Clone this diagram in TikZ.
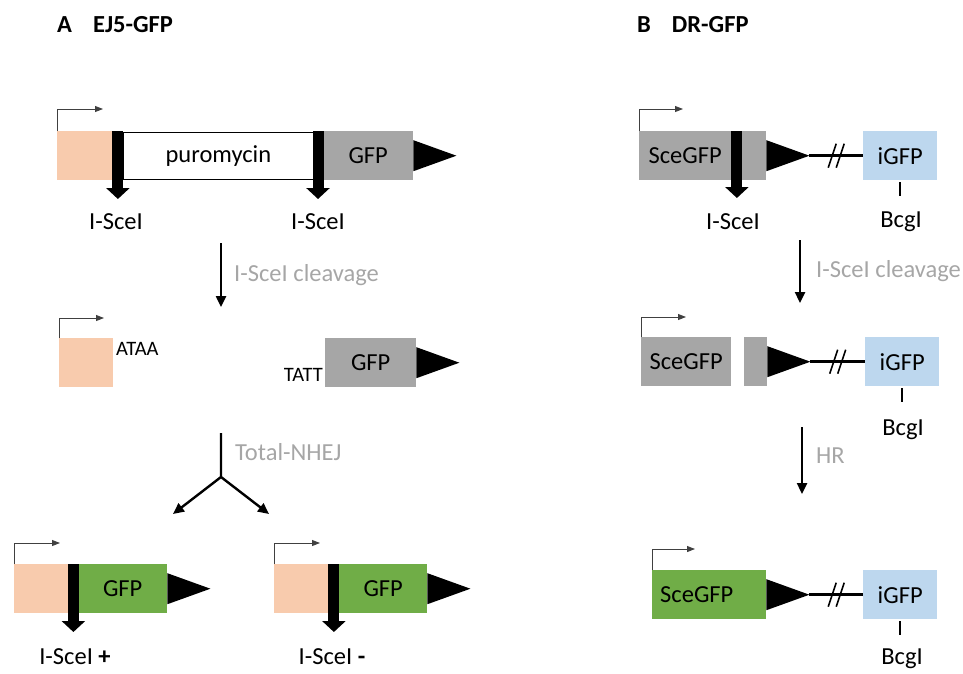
\documentclass[tikz,border=0pt]{standalone}
\usepackage{fontspec}
\setmainfont{Carlito}
\definecolor{peach}{HTML}{F8CBAD}
\definecolor{gfpgrey}{HTML}{A6A6A6}
\definecolor{gfpgreen}{HTML}{70AD47}
\definecolor{iblue}{HTML}{BDD7EE}
\definecolor{notegrey}{HTML}{A6A6A6}
\usetikzlibrary{arrows.meta,calc}

\begin{document}
\begin{tikzpicture}[x=1pt,y=-1pt,
  seg/.style={rectangle,inner sep=0pt,minimum height=49pt,anchor=north west,
    font=\fontsize{24.5}{28}\selectfont},
  cutbar/.style={line width=11pt,-{Triangle[width=23pt,length=11pt]}},
  promo/.style={line width=0.9pt,draw=black!75,-{Triangle[width=6pt,length=8pt]}},
  flow/.style={line width=2.4pt,-{Triangle[width=10pt,length=11pt]}},
  link/.style={line width=2.5pt},
  slash/.style={line width=1.6pt},
  lbl/.style={font=\fontsize{24.5}{28}\selectfont,inner sep=0pt},
  seq/.style={font=\fontsize{20.5}{23}\selectfont,inner sep=0pt},
  note/.style={font=\fontsize{24.5}{28}\selectfont,text=notegrey,inner sep=0pt,anchor=west},
  title/.style={font=\fontsize{24.5}{28}\selectfont\bfseries,inner sep=0pt,anchor=west},
  tri/.pic={\fill (0,-15.5) -- (43,0) coordinate (-tip) -- (0,15.5) -- cycle;}
]
  \useasboundingbox (0,0) rectangle (963,673);

  % Titles
  \node[title] (ta) at (57,25) {A\hspace{21pt}EJ5-GFP};
  \node[title] (tb) at (637,25) {B\hspace{21pt}DR-GFP};

  % EJ5-GFP reporter
  \node[seg,fill=peach,minimum width=55pt] (pro1) at (57,131) {};
  \node[seg,fill=white,draw,line width=0.8pt,minimum width=190pt,minimum height=47pt] (puro) at (123,132) {puromycin};
  \node[seg,fill=gfpgrey,minimum width=90pt] (gfp1) at (323,131) {GFP};
  \pic (t1) at (gfp1.east) {tri};
  \draw[promo] (pro1.north west) |- ++(46,-22);
  \draw[cutbar] ([xshift=5.5pt]pro1.north east) -- ++(0,68);
  \draw[cutbar] ([xshift=-5pt]gfp1.north west) -- ++(0,68);
  \node[lbl] (sa1) at (116,222) {I-SceI};
  \node[lbl] (sa2) at (318,222) {I-SceI};

  \coordinate (cl1) at (221,243);
  \coordinate (cl2) at (221,307);
  \draw[flow] (cl1) -- (cl2) node[note,midway,xshift=12pt] {I-SceI cleavage};

  % cut ends
  \node[seg,fill=peach,minimum width=54pt] (pro2) at (59,338) {};
  \node[seq,anchor=west] (ataa) at (116,349) {ATAA};
  \node[seg,fill=gfpgrey,minimum width=91pt] (gfp2) at (325,338) {GFP};
  \node[seq,anchor=east] (tatt) at (323,375) {TATT};
  \pic (t2) at (gfp2.east) {tri};
  \draw[promo] (pro2.north west) |- ++(45,-20);

  \coordinate (nj0) at (221,433);
  \coordinate (nj1) at (221,477);
  \coordinate (nj2) at (173,514);
  \coordinate (nj3) at (269,514);
  \draw[flow] (nj0) -- (nj1) -- (nj2);
  \draw[flow] (nj1) -- (nj3);
  \node[note] (nhej) at (235,452) {Total-NHEJ};

  % repaired products
  \node[seg,fill=peach,minimum width=54pt] (pro3) at (14,564) {};
  \node[seg,fill=gfpgreen,minimum width=89pt] (gfp3) at (78,564) {GFP};
  \pic (t3) at (gfp3.east) {tri};
  \draw[promo] (pro3.north west) |- ++(46,-21);
  \draw[cutbar] ([xshift=5pt]pro3.north east) -- ++(0,68);
  \node[lbl] (sa3) at (75,657) {I-SceI \textbf{+}};

  \node[seg,fill=peach,minimum width=54pt] (pro4) at (274,564) {};
  \node[seg,fill=gfpgreen,minimum width=88pt] (gfp4) at (339,564) {GFP};
  \pic (t4) at (gfp4.east) {tri};
  \draw[promo] (pro4.north west) |- ++(46,-21);
  \draw[cutbar] ([xshift=5.5pt]pro4.north east) -- ++(0,68);
  \node[lbl] (sa4) at (332,657) {I-SceI \textbf{-}};

  % DR-GFP reporter
  \node[seg,fill=gfpgrey,minimum width=92pt] (sce1) at (639,131) {SceGFP};
  \node[seg,fill=gfpgrey,minimum width=24pt] (sce1b) at (742,131) {};
  \pic (t5) at (sce1b.east) {tri};
  \node[seg,fill=iblue,minimum width=74pt] (ig1) at (863,131) {iGFP};
  \draw[promo] (sce1.north west) |- ++(44,-22);
  \draw[cutbar] ([xshift=5.5pt]sce1.north east) -- ++(0,67);
  \draw[link] (t5-tip) -- (ig1.west) coordinate[pos=0.5] (br1);
  \draw[slash] ($(br1)+(-8,12)$) -- ++(8,-24);
  \draw[slash] ($(br1)+(0,12)$) -- ++(8,-24);
  \draw[line width=1.5pt] ([yshift=-2pt]ig1.south) -- ++(0,14);
  \node[lbl] (sb1) at (733,222) {I-SceI};
  \node[lbl] (bg1) at (901,222) {BcgI};

  \coordinate (cr1) at (800,240);
  \coordinate (cr2) at (800,303);
  \draw[flow] (cr1) -- (cr2) node[note,midway,xshift=15pt] {I-SceI cleavage};

  \node[seg,fill=gfpgrey,minimum width=90pt] (sce2) at (641,337) {SceGFP};
  \node[seg,fill=gfpgrey,minimum width=23pt] (sce2b) at (744,337) {};
  \pic (t6) at (sce2b.east) {tri};
  \node[seg,fill=iblue,minimum width=74pt] (ig2) at (865,337) {iGFP};
  \draw[promo] (sce2.north west) |- ++(45,-20);
  \draw[link] (t6-tip) -- (ig2.west) coordinate[pos=0.5] (br2);
  \draw[slash] ($(br2)+(-8,12)$) -- ++(8,-24);
  \draw[slash] ($(br2)+(0,12)$) -- ++(8,-24);
  \draw[line width=1.5pt] ([yshift=-2pt]ig2.south) -- ++(0,14);
  \node[lbl] (bg2) at (903,430) {BcgI};

  \coordinate (hr1) at (802,427);
  \coordinate (hr2) at (802,494);
  \draw[flow] (hr1) -- (hr2) node[note,midway,xshift=13pt,yshift=5pt] {HR};

  \node[seg,fill=gfpgreen,text width=98pt,inner xsep=8pt,align=left] (sce3) at (652,570) {SceGFP};
  \pic (t7) at (sce3.east) {tri};
  \node[seg,fill=iblue,minimum width=74pt] (ig3) at (863,570) {iGFP};
  \draw[promo] (sce3.north west) |- ++(43,-21);
  \draw[link] (t7-tip) -- (ig3.west) coordinate[pos=0.5] (br3);
  \draw[slash] ($(br3)+(-8,12)$) -- ++(8,-24);
  \draw[slash] ($(br3)+(0,12)$) -- ++(8,-24);
  \draw[line width=1.5pt] ([yshift=-2pt]ig3.south) -- ++(0,14);
  \node[lbl] (bg3) at (902,659) {BcgI};
\end{tikzpicture}
\end{document}
